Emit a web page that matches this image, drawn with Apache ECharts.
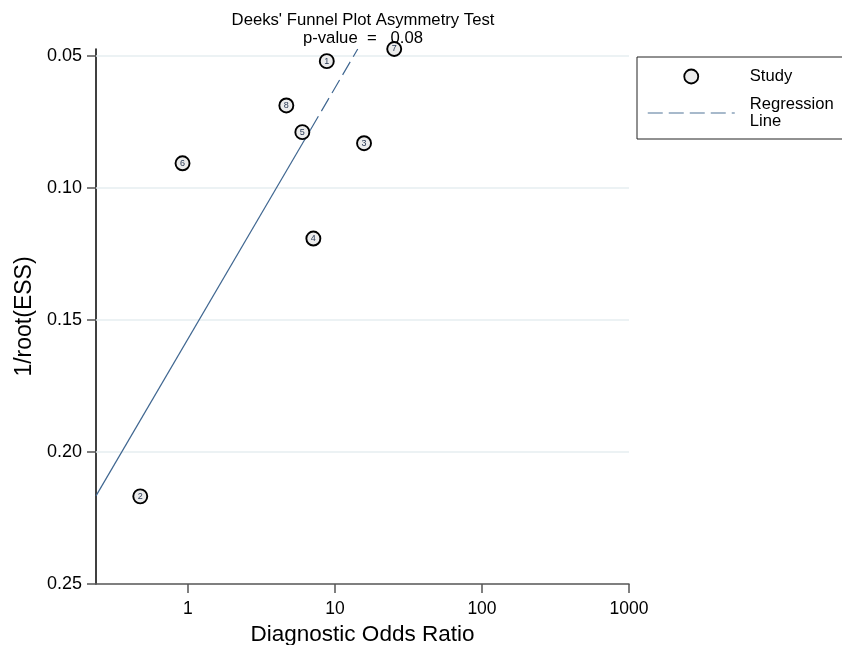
<!DOCTYPE html>
<html>
<head>
<meta charset="utf-8">
<script src="https://cdn.jsdelivr.net/npm/echarts@6/dist/echarts.min.js"></script>
<style>
  html, body { margin: 0; padding: 0; background: #fff; }
  #chart { width: 842px; height: 645px; }
</style>
</head>
<body>
<div id="chart"></div>
<script>
// Study identifiers, diagnostic odds ratios and 1/sqrt(effective sample size)
const studyIds = [1, 2, 3, 4, 5, 6, 7, 8];
const diagnosticOddsRatio = [8.80, 0.474, 15.77, 7.13, 6.00, 0.919, 25.3, 4.67];
const invRootEss = [0.0519, 0.2168, 0.0830, 0.1191, 0.0788, 0.0906, 0.0473, 0.0687];

// Fitted regression line (DOR at given 1/root(ESS)); solid lower stretch, dashed upper stretch
const regressionDor = [0.237, 6.85, 14.29];
const regressionInvRootEss = [0.2166, 0.0777, 0.0473];

// Axis tick values
const yTicks = [0.05, 0.10, 0.15, 0.20, 0.25];
const xTicks = [1, 10, 100, 1000];

const pValue = '0.08';

const FONT = 'Liberation Sans, Arial, Helvetica, sans-serif';

const studyPoints = studyIds.map((id, i) => ({
  value: [diagnosticOddsRatio[i], invRootEss[i]],
  id: id
}));
const regSolid = [0, 1].map(i => [regressionDor[i], regressionInvRootEss[i]]);
const regDashed = [1, 2].map(i => [regressionDor[i], regressionInvRootEss[i]]);

const chart = echarts.init(document.getElementById('chart'), null, { renderer: 'canvas' });

const REG_NAME = 'Regression\nLine';
const LINE_COLOR = '#3f6690';

chart.setOption({
  animation: false,
  backgroundColor: '#fff',
  textStyle: { fontFamily: FONT },
  title: {
    text: "Deeks' Funnel Plot Asymmetry Test\np-value  =   " + pValue,
    left: 363,
    top: 11,
    textAlign: 'center',
    padding: 0,
    textStyle: {
      fontFamily: FONT,
      fontSize: 16.7,
      fontWeight: 'normal',
      color: '#000',
      lineHeight: 18
    }
  },
  legend: {
    orient: 'vertical',
    left: 637,
    top: 57,
    padding: [11, 30, 9, 10],
    itemGap: 11,
    itemWidth: 87,
    itemHeight: 14,
    borderColor: '#222',
    borderWidth: 1,
    backgroundColor: '#fff',
    selectedMode: false,
    textStyle: {
      fontFamily: FONT,
      fontSize: 16.6,
      color: '#000',
      lineHeight: 17,
      padding: [0, 0, 0, 10]
    },
    data: [
      {
        name: 'Study',
        icon: 'circle',
        itemStyle: { color: '#ececec', borderColor: '#000', borderWidth: 1.8 }
      },
      {
        name: REG_NAME,
        itemStyle: { color: 'rgba(0,0,0,0)', borderColor: 'rgba(0,0,0,0)', borderWidth: 0, opacity: 0 },
        lineStyle: { color: '#8aa2ba', width: 1.5, type: [15, 6] }
      }
    ]
  },
  grid: {
    left: 96,
    right: 213,
    top: 49,
    bottom: 61,
    containLabel: false,
    outerBoundsMode: 'none'
  },
  xAxis: {
    type: 'log',
    logBase: 10,
    min: regressionDor[0],
    max: 1000,
    name: 'Diagnostic Odds Ratio',
    nameLocation: 'middle',
    nameGap: 33,
    nameTextStyle: { fontFamily: FONT, fontSize: 22.5, color: '#000' },
    axisLine: { show: true, onZero: false, lineStyle: { color: '#555', width: 1.5 } },
    axisTick: { show: true, length: 9, customValues: xTicks, lineStyle: { color: '#555', width: 1.5 } },
    axisLabel: {
      customValues: xTicks,
      margin: 16,
      fontFamily: FONT,
      fontSize: 17.5,
      color: '#000',
      formatter: v => String(Math.round(v))
    },
    splitLine: { show: false },
    minorTick: { show: false }
  },
  yAxis: {
    type: 'value',
    inverse: true,
    min: invRootEss[6],
    max: 0.25,
    name: '1/root(ESS)',
    nameLocation: 'middle',
    nameGap: 56,
    nameTextStyle: { fontFamily: FONT, fontSize: 23, color: '#000' },
    axisLine: { show: true, onZero: false, lineStyle: { color: '#000', width: 1.5 } },
    axisTick: { show: true, length: 9, customValues: yTicks, lineStyle: { color: '#555', width: 1.5 } },
    axisLabel: {
      customValues: yTicks,
      margin: 14,
      fontFamily: FONT,
      fontSize: 18,
      color: '#000',
      formatter: v => v.toFixed(2)
    },
    splitLine: { show: false }
  },
  series: [
    {
      // horizontal reference lines at the labelled 1/root(ESS) values
      name: 'grid',
      type: 'line',
      data: [],
      silent: true,
      z: 1,
      markLine: {
        silent: true,
        z: 1,
        symbol: 'none',
        label: { show: false },
        emphasis: { disabled: true },
        lineStyle: { color: '#e6eef0', width: 1.5, type: 'solid' },
        data: yTicks.slice(0, 4).map(v => ({ yAxis: v }))
      }
    },
    {
      name: REG_NAME,
      type: 'line',
      data: regDashed,
      showSymbol: false,
      symbol: 'none',
      z: 2,
      itemStyle: { color: LINE_COLOR },
      lineStyle: { color: LINE_COLOR, width: 1.2, type: [15, 6] }
    },
    {
      name: REG_NAME,
      type: 'line',
      data: regSolid,
      showSymbol: false,
      symbol: 'none',
      z: 2,
      itemStyle: { color: LINE_COLOR },
      lineStyle: { color: LINE_COLOR, width: 1.2, type: 'solid' }
    },
    {
      name: 'Study',
      type: 'scatter',
      data: studyPoints,
      symbol: 'circle',
      symbolSize: 14,
      z: 3,
      itemStyle: { color: '#ececec', borderColor: '#000', borderWidth: 1.9, opacity: 1 },
      label: {
        show: true,
        position: 'inside',
        formatter: p => String(p.data.id),
        fontFamily: FONT,
        fontSize: 9,
        color: '#2a3a55'
      }
    }
  ]
});
</script>
</body>
</html>
